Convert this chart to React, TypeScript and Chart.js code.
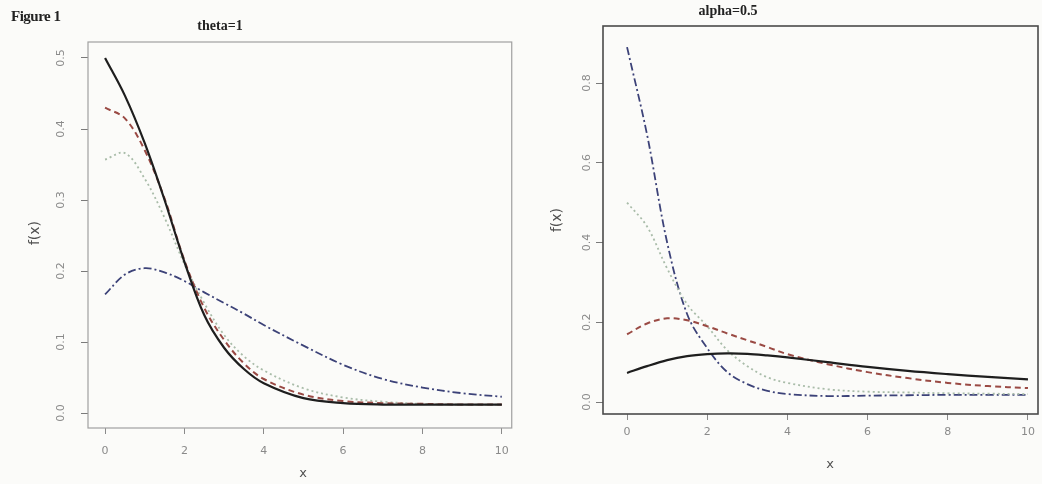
import React, { useEffect, useRef } from "react";
import { Chart, registerables } from "chart.js";

Chart.register(...registerables);

// ---------- data ----------
const xValues = [0, 0.5, 1, 1.5, 2, 2.5, 3, 3.5, 4, 5, 6, 7, 8, 9, 10];

// Left panel: theta=1
const thetaSolid = [0.5, 0.447, 0.38, 0.3, 0.213, 0.138, 0.092, 0.062, 0.042, 0.021, 0.014, 0.012, 0.012, 0.012, 0.012];
const thetaDashed = [0.43, 0.415, 0.37, 0.302, 0.215, 0.148, 0.103, 0.07, 0.048, 0.026, 0.017, 0.014, 0.013, 0.012, 0.012];
const thetaDotted = [0.357, 0.366, 0.33, 0.275, 0.21, 0.155, 0.11, 0.08, 0.06, 0.035, 0.022, 0.016, 0.013, 0.012, 0.012];
const thetaDotDash = [0.167, 0.195, 0.204, 0.198, 0.186, 0.17, 0.155, 0.14, 0.124, 0.095, 0.068, 0.048, 0.036, 0.028, 0.023];

// Right panel: alpha=0.5
const alphaSolid = [0.073, 0.09, 0.105, 0.115, 0.12, 0.122, 0.121, 0.117, 0.112, 0.1, 0.088, 0.078, 0.07, 0.063, 0.057];
const alphaDashed = [0.17, 0.197, 0.21, 0.205, 0.19, 0.172, 0.155, 0.138, 0.12, 0.095, 0.075, 0.06, 0.048, 0.04, 0.035];
const alphaDotted = [0.5, 0.44, 0.335, 0.245, 0.19, 0.13, 0.09, 0.062, 0.048, 0.032, 0.026, 0.024, 0.022, 0.021, 0.02];
const alphaDotDash = [0.89, 0.67, 0.4, 0.22, 0.135, 0.075, 0.045, 0.028, 0.02, 0.015, 0.016, 0.017, 0.018, 0.018, 0.018];

const xTicks = [0, 2, 4, 6, 8, 10];
const yTicksLeft = [0, 0.1, 0.2, 0.3, 0.4, 0.5];
const yTicksRight = [0, 0.2, 0.4, 0.6, 0.8];

const figureLabel = "Figure 1";
const leftTitle = "theta=1";
const rightTitle = "alpha=0.5";
const yTitle = "f(x)";
const xTitle = "x";

// ---------- styles ----------
const seriesStyles = [
  { color: "#1e1e1e", width: 2.2, dash: [] as number[] },
  { color: "#9a4a44", width: 2, dash: [6, 4] },
  { color: "#a9bca9", width: 1.8, dash: [2, 3] },
  { color: "#3c4278", width: 1.8, dash: [8, 3, 2, 3] },
];

type PanelCfg = {
  width: number;
  series: number[][];
  xMin: number;
  xMax: number;
  yMin: number;
  yMax: number;
  yTicks: number[];
  pad: { top: number; right: number };
  yAxisWidth: number;
  xAxisHeight: number;
  boxColor: string;
  boxWidth: number;
  tickPad: number;
  yLabelX: number;
  yTitlePos: [number, number];
  xTitlePos: [number, number];
};

const leftCfg: PanelCfg = {
  width: 520,
  series: [thetaSolid, thetaDashed, thetaDotted, thetaDotDash],
  xMin: -0.43,
  xMax: 10.25,
  yMin: -0.021,
  yMax: 0.5225,
  yTicks: yTicksLeft,
  pad: { top: 42, right: 8 },
  yAxisWidth: 88,
  xAxisHeight: 56,
  boxColor: "#a0a0a0",
  boxWidth: 1.2,
  tickPad: 11,
  yLabelX: 61,
  yTitlePos: [35, 233],
  xTitlePos: [303, 474],
};

const rightCfg: PanelCfg = {
  width: 522,
  series: [alphaSolid, alphaDashed, alphaDotted, alphaDotDash],
  xMin: -0.6,
  xMax: 10.25,
  yMin: -0.03,
  yMax: 0.943,
  yTicks: yTicksRight,
  pad: { top: 26, right: 4 },
  yAxisWidth: 83,
  xAxisHeight: 70,
  boxColor: "#4a4a4a",
  boxWidth: 1.6,
  tickPad: 6,
  yLabelX: 67,
  yTitlePos: [37, 220],
  xTitlePos: [310, 465],
};

function Panel({ cfg }: { cfg: PanelCfg }) {
  const ref = useRef<HTMLCanvasElement | null>(null);
  useEffect(() => {
    if (!ref.current) return;
    const decor = {
      id: "rDecor",
      afterDraw(chart: any) {
        const { ctx, chartArea } = chart;
        const y = chart.scales.y;
        ctx.save();
        ctx.strokeStyle = cfg.boxColor;
        ctx.lineWidth = cfg.boxWidth;
        ctx.strokeRect(
          chartArea.left,
          chartArea.top,
          chartArea.right - chartArea.left,
          chartArea.bottom - chartArea.top
        );
        ctx.fillStyle = "#8a8a8a";
        ctx.font = "11px 'DejaVu Sans'";
        ctx.textAlign = "center";
        ctx.textBaseline = "middle";
        cfg.yTicks.forEach((v) => {
          const py = y.getPixelForValue(v);
          ctx.save();
          ctx.translate(cfg.yLabelX, py);
          ctx.rotate(-Math.PI / 2);
          ctx.fillText(v.toFixed(1), 0, 0);
          ctx.restore();
        });
        ctx.fillStyle = "#505050";
        ctx.font = "14px 'DejaVu Sans'";
        ctx.save();
        ctx.translate(cfg.yTitlePos[0], cfg.yTitlePos[1]);
        ctx.rotate(-Math.PI / 2);
        ctx.fillText(yTitle, 0, 0);
        ctx.restore();
        ctx.font = "13px 'DejaVu Sans'";
        ctx.fillText(xTitle, cfg.xTitlePos[0], cfg.xTitlePos[1]);
        ctx.restore();
      },
    };
    const chart = new Chart(ref.current, {
      type: "line",
      data: {
        datasets: cfg.series.map((vals, i) => ({
          label: "s" + i,
          data: vals.map((v, k) => ({ x: xValues[k], y: v })),
          borderColor: seriesStyles[i].color,
          borderWidth: seriesStyles[i].width,
          borderDash: seriesStyles[i].dash,
          pointRadius: 0,
          fill: false,
          tension: 0.35,
        })),
      },
      options: {
        animation: false,
        responsive: false,
        maintainAspectRatio: false,
        layout: { padding: { top: cfg.pad.top, right: cfg.pad.right, left: 0, bottom: 0 } },
        plugins: { legend: { display: false }, tooltip: { enabled: false }, title: { display: false } },
        scales: {
          x: {
            type: "linear",
            min: cfg.xMin,
            max: cfg.xMax,
            afterBuildTicks: (s: any) => {
              s.ticks = xTicks.map((v) => ({ value: v }));
            },
            afterFit: (s: any) => {
              s.height = cfg.xAxisHeight;
            },
            border: { display: false },
            grid: { drawOnChartArea: false, drawTicks: true, tickLength: 6, color: "#8a8a8a", lineWidth: 1 },
            ticks: {
              color: "#8a8a8a",
              padding: cfg.tickPad,
              font: { family: "'DejaVu Sans'", size: 11 },
              maxRotation: 0,
              autoSkip: false,
              callback: (v: any) => String(v),
            },
          },
          y: {
            type: "linear",
            min: cfg.yMin,
            max: cfg.yMax,
            afterBuildTicks: (s: any) => {
              s.ticks = cfg.yTicks.map((v) => ({ value: v }));
            },
            afterFit: (s: any) => {
              s.width = cfg.yAxisWidth;
            },
            border: { display: false },
            grid: { drawOnChartArea: false, drawTicks: true, tickLength: 7, color: "#7a7a7a", lineWidth: 1 },
            ticks: { display: false },
          },
        },
      },
      plugins: [decor],
    });
    return () => chart.destroy();
  }, [cfg]);
  return <canvas ref={ref} width={cfg.width} height={484} style={{ display: "block" }} />;
}

export default function App() {
  return (
    <div
      style={{
        position: "fixed",
        left: 0,
        top: 0,
        width: 1042,
        height: 484,
        background: "#fbfbf9",
        overflow: "hidden",
      }}
    >
      <div style={{ position: "absolute", left: 0, top: 0 }}>
        <Panel cfg={leftCfg} />
      </div>
      <div style={{ position: "absolute", left: 520, top: 0 }}>
        <Panel cfg={rightCfg} />
      </div>
      <div
        style={{
          position: "absolute",
          left: 11,
          top: 8,
          font: "bold 15px 'Liberation Serif'",
          color: "#222",
          letterSpacing: -0.5,
        }}
      >
        {figureLabel}
      </div>
      <div
        style={{
          position: "absolute",
          left: 220,
          top: 18,
          transform: "translateX(-50%)",
          font: "bold 14px 'Liberation Serif'",
          color: "#222",
          whiteSpace: "nowrap",
        }}
      >
        {leftTitle}
      </div>
      <div
        style={{
          position: "absolute",
          left: 728,
          top: 3,
          transform: "translateX(-50%)",
          font: "bold 14px 'Liberation Serif'",
          color: "#222",
          whiteSpace: "nowrap",
        }}
      >
        {rightTitle}
      </div>
    </div>
  );
}
